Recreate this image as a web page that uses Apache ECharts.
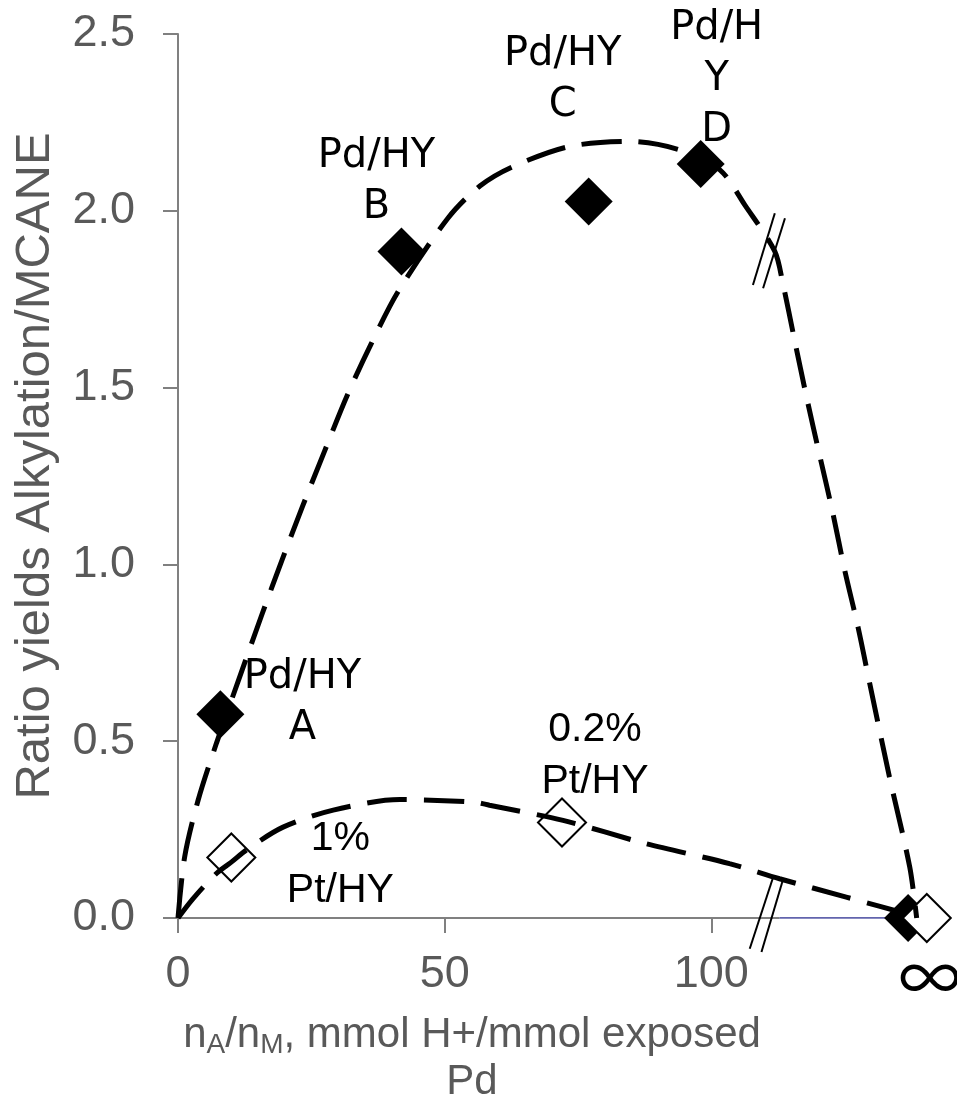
<!DOCTYPE html>
<html>
<head>
<meta charset="utf-8">
<script src="https://cdn.jsdelivr.net/npm/echarts@6/dist/echarts.min.js"></script>
<style>html,body{margin:0;padding:0;background:#fff}#c{width:957px;height:1100px}</style>
</head>
<body>
<div id="c"></div>
<script>
// ---- data ----
const xTicks = [0, 50, 100];
const yMin = 0, yMax = 2.5, yStep = 0.5;

// Pd/HY catalysts (filled diamonds); last point is the "infinity" point
const pdX = [7.95, 41.9, 77.0, 98.0, 136.9];
const pdY = [0.576, 1.885, 2.026, 2.132, 0.0];
const pdNames = ['Pd/HY\nA', 'Pd/HY\nB', 'Pd/HY\nC', 'Pd/H\nY\nD', ''];

// Pt/HY catalysts (open diamonds); last point is the "infinity" point
const ptX = [10.0, 72.0, 140.4];
const ptY = [0.171, 0.270, 0.0];
const ptNames = ['1%\nPt/HY', '0.2%\nPt/HY', '∞'];

// dashed trend curves (traced)
const upperCurve = [[0,0],[1.25,0.173],[3.77,0.333],[7.2,0.494],[11.57,0.682],[15.75,0.859],[19.5,1.012],[23.4,1.166],[27.5,1.321],[31.7,1.477],[36.26,1.625],[41.25,1.771],[50.6,1.979],[56.6,2.07],[62.8,2.125],[73.4,2.182],[84.7,2.196],[94.1,2.172],[101.6,2.116],[106.3,2.016],[111.9,1.885],[113.4,1.795],[115.6,1.635],[117.9,1.47],[120.3,1.309],[122.8,1.144],[125.0,0.984],[127.5,0.823],[129.7,0.663],[133.4,0.399],[137.2,0.144],[138.5,0.0]];
const lowerCurve = [[0,0],[2.83,0.055],[7.2,0.126],[10.0,0.158],[12.8,0.192],[19.7,0.257],[29.1,0.305],[41.6,0.335],[55.3,0.328],[58.4,0.319],[72.2,0.276],[87.8,0.21],[103.4,0.154],[112.8,0.111],[125.3,0.059],[139.5,0]];

// axis segments and break marks
const xAxisSegment = [[0,0],[112.8,0]];
const blueSegment = [[112.8,0],[134.7,0]];
const breakUpper1 = [[107.8,1.790],[111.9,1.993]];
const breakUpper2 = [[109.7,1.781],[113.8,1.979]];
const breakLower1 = [[107.2,-0.087],[111.6,0.116]];
const breakLower2 = [[109.4,-0.096],[113.4,0.107]];

// ---- styling (pixel offsets of annotation text relative to each marker) ----
const pdLabelOffsets = [[82,-11],[-25,-69],[-26,-121],[16,-85],[0,0]];
const ptLabelOffsets = [[109,7],[33,-67],[3,60]];

const GRAY = '#808080', TXT = '#595959';
const chart = echarts.init(document.getElementById('c'), null, {renderer:'canvas'});

const dashStyle = {color:'#000', width:5, type:[40,17]};
function lineSeries(data, style, extra) {
  return Object.assign({type:'line', data, symbol:'none', silent:true, lineStyle:style, animation:false}, extra||{});
}

const pdData = pdX.map((x,i)=>({value:[x,pdY[i]], name:pdNames[i], label:{offset:pdLabelOffsets[i]}}));
const ptData = ptX.map((x,i)=>{
  const lab = {offset:ptLabelOffsets[i]};
  if (ptNames[i] === '∞') Object.assign(lab, {fontFamily:'Inter', fontWeight:300, fontSize:72, lineHeight:72});
  return {value:[x,ptY[i]], name:ptNames[i], label:lab};
});

chart.setOption({
  animation:false,
  grid:{left:178, top:34, width:752, height:884, containLabel:false, outerBoundsMode:'none'},
  xAxis:{
    type:'value', min:0, max:141, interval:50,
    axisLine:{show:false},
    axisTick:{show:true, length:15, customValues:xTicks, lineStyle:{color:GRAY, width:2}},
    axisLabel:{customValues:xTicks, fontSize:45, fontFamily:'Liberation Sans', color:TXT, margin:34},
    splitLine:{show:false},
    name:'n{sub|A}/n{sub|M}, mmol H+/mmol exposed\nPd',
    nameLocation:'middle', nameGap:94,
    nameTextStyle:{fontSize:42, fontFamily:'Liberation Sans', color:TXT, lineHeight:47, align:'center',
      padding:[0,164,0,0],
      rich:{sub:{fontSize:28, fontFamily:'Liberation Sans', color:TXT, lineHeight:20, verticalAlign:'bottom'}}}
  },
  yAxis:{
    type:'value', min:yMin, max:yMax, interval:yStep,
    axisLine:{show:true, lineStyle:{color:GRAY, width:2}},
    axisTick:{show:true, length:15, lineStyle:{color:GRAY, width:2}},
    axisLabel:{fontSize:45, fontFamily:'Liberation Sans', color:TXT, margin:43, formatter:v=>v.toFixed(1)},
    splitLine:{show:false},
    name:'Ratio yields Alkylation/MCANE', nameLocation:'middle', nameGap:118,
    nameTextStyle:{fontSize:49, fontFamily:'Liberation Sans', color:TXT, padding:[0,0,0,20]}
  },
  series:[
    lineSeries(xAxisSegment, {color:GRAY, width:2}, {z:1}),
    lineSeries(blueSegment, {color:'#2e3192', width:1.5}, {z:1}),
    {
      type:'scatter', data:pdData, symbol:'diamond', symbolSize:48, z:3,
      itemStyle:{color:'#000', opacity:1}, silent:true,
      label:{show:true, position:'inside', formatter:'{b}', color:'#000', opacity:1, textBorderWidth:0,
        fontFamily:'DejaVu Sans', fontSize:40, lineHeight:51}
    },
    {
      type:'scatter', data:ptData, symbol:'diamond', symbolSize:48, z:4,
      itemStyle:{color:'#fff', borderColor:'#000', borderWidth:2, opacity:1}, silent:true,
      label:{show:true, position:'inside', formatter:'{b}', color:'#000', opacity:1, textBorderWidth:0,
        fontFamily:'Liberation Sans', fontSize:41, lineHeight:52}
    },
    lineSeries(upperCurve, dashStyle, {smooth:0.3, z:5}),
    lineSeries(lowerCurve, dashStyle, {smooth:0.3, z:5}),
    lineSeries(breakUpper1, {color:'#000', width:2}, {z:6, clip:false}),
    lineSeries(breakUpper2, {color:'#000', width:2}, {z:6, clip:false}),
    lineSeries(breakLower1, {color:'#000', width:2}, {z:6, clip:false}),
    lineSeries(breakLower2, {color:'#000', width:2}, {z:6, clip:false})
  ]
});
</script>
</body>
</html>
